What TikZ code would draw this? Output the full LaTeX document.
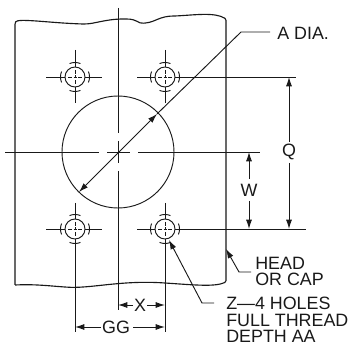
\documentclass[tikz,border=0pt]{standalone}
\usepackage{fontspec}
\setmainfont{Liberation Sans}
\usetikzlibrary{arrows.meta}
\definecolor{dwgBlack}{RGB}{25,25,25}

\tikzset{
  outline/.style={dwgBlack, line width=0.85pt},
  thin line/.style={dwgBlack, line width=0.7pt},
  dim line/.style={thin line, -{Latex[length=7pt,width=4.5pt]}},
  dim both/.style={thin line, {Latex[length=7pt,width=4.5pt]}-{Latex[length=7pt,width=4.5pt]}},
  label/.style={font=\fontsize{13.4}{12.2}\selectfont, text=dwgBlack, inner sep=0pt, align=left},
}

% one tapped hole with its cross lines
\newcommand{\tappedhole}[3]{
  \begin{scope}[shift={(#1,#2)}]
    \coordinate (#3) at (0,0);
    \draw[thin line] (0,0) circle (10);
    \foreach \ang in {0,90,180,270}
      \draw[thin line] (\ang-22:14.5) arc (\ang-22:\ang+22:14.5);
    \draw[thin line] (-7,0) -- (-3,0) (-1.5,0) -- (1.5,0) (3,0) -- (7,0);
    \draw[thin line] (0,-7) -- (0,-3) (0,-1.5) -- (0,1.5) (0,3) -- (0,7);
  \end{scope}
}

\begin{document}
\begin{tikzpicture}[x=0.75pt,y=-0.75pt]
  \useasboundingbox (0,0) rectangle (349,348);

  % Head outline with broken ends
  \draw[outline, rounded corners=1pt] (15,285) -- (15,23)
    .. controls (18,18) and (50,23) .. (83,24)
    .. controls (95,24) and (105,19) .. (125,19)
    .. controls (138,19) and (138,24) .. (145,23)
    .. controls (155,22) and (160,16) .. (175,16)
    .. controls (195,15) and (215,12) .. (226,19)
    -- (226,282)
    .. controls (215,287) and (195,285) .. (165,283)
    .. controls (120,280) and (90,289) .. (65,287)
    .. controls (50,286) and (35,284) .. (15,285);

  % Bore and hole pattern
  \coordinate (boreC) at (118,152);
  \draw[thin line] (boreC) circle (56);
  \tappedhole{75}{77}{holeA}
  \tappedhole{165}{77}{holeB}
  \tappedhole{75}{229}{holeC}
  \tappedhole{165}{229}{holeD}

  % Center lines
  \draw[thin line] (5,152) -- (99,152) (107,152) -- (130,152) (138,152) -- (260,152);
  \draw[thin line] (118,8) -- (118,133) (118,141) -- (118,163) (118,171) -- (118,310);
  \draw[thin line] (46,77) -- (65,77) (85,77) -- (102,77) (75,50) -- (75,67) (75,87) -- (75,103);
  \draw[thin line] (137,77) -- (155,77) (175,77) -- (296,77) (165,50) -- (165,67) (165,87) -- (165,103);
  \draw[thin line] (46,229) -- (65,229) (85,229) -- (102,229) (75,203) -- (75,219) (75,239) -- (75,332);
  \draw[thin line] (137,229) -- (155,229) (175,229) -- (306,229) (165,203) -- (165,219) (165,239) -- (165,332);

  % Diameter leader
  \coordinate (diaA) at (79,192);
  \coordinate (diaB) at (157,114);
  \coordinate (diaK) at (241,32);
  \coordinate (diaE) at (270,32);
  \draw[dim both] (diaA) -- (diaB);
  \draw[thin line] (diaB) -- (diaK) -- (diaE);
  \node[label, anchor=west] (diaL) at (277,33) {A DIA.};

  % Vertical dims
  \node[label] (qL) at (289,152) {Q};
  \coordinate (qT) at (289,77);
  \coordinate (qB) at (289,229);
  \draw[dim line] (289,142) -- (qT);
  \draw[dim line] (289,163) -- (qB);
  \node[label] (wL) at (249,190) {W};
  \coordinate (wT) at (249,152);
  \coordinate (wB) at (249,229);
  \draw[dim line] (249,179) -- (wT);
  \draw[dim line] (249,201) -- (wB);

  % Horizontal dims
  \node[label] (xL) at (140,305) {X};
  \coordinate (xA) at (118,305);
  \coordinate (xB) at (165,305);
  \draw[dim line] (133,305) -- (xA);
  \draw[dim line] (147,305) -- (xB);
  \node[label] (ggL) at (116,327) {GG};
  \coordinate (ggA) at (75,327);
  \coordinate (ggB) at (165,327);
  \draw[dim line] (101,327) -- (ggA);
  \draw[dim line] (133,327) -- (ggB);

  % Callouts
  \coordinate (capT) at (226,249);
  \coordinate (capK) at (239,272);
  \coordinate (capE) at (251,272);
  \draw[thin line, {Latex[length=7pt,width=4.5pt]}-] (capT) -- (capK) -- (capE);
  \node[label, anchor=north west] (capL) at (255,257) {HEAD\\OR CAP};

  \coordinate (holT) at (169,240);
  \coordinate (holK) at (202,303);
  \coordinate (holE) at (214,303);
  \draw[thin line, {Latex[length=7pt,width=4.5pt]}-] (holT) -- (holK) -- (holE);
  \node[label, anchor=north west] (holL) at (226,297) {Z—4 HOLES\\FULL THREAD\\DEPTH AA};
\end{tikzpicture}
\end{document}
